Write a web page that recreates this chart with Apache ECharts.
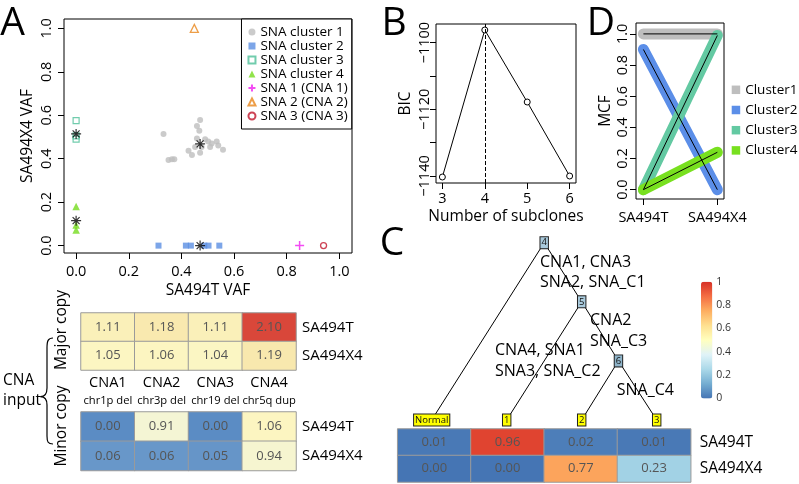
<!DOCTYPE html>
<html><head><meta charset="utf-8">
<script src="https://cdn.jsdelivr.net/npm/echarts@6/dist/echarts.min.js"></script>
<style>html,body{margin:0;padding:0;background:#fff}#c{width:799px;height:484px}</style>
</head><body><div id="c"></div>
<script>
const FONT = 'Open Sans';
// ---------- Panel A: VAF scatter ----------
const cluster1 = [[0.332,0.514],[0.351,0.394],[0.364,0.397],[0.373,0.398],[0.427,0.437],[0.440,0.417],[0.471,0.578],[0.459,0.550],[0.468,0.529],[0.459,0.493],[0.471,0.427],[0.477,0.454],[0.490,0.489],[0.502,0.479],[0.515,0.470],[0.534,0.479],[0.540,0.461],[0.558,0.441],[0.509,0.454],[0.452,0.454]];
const cluster2 = [[0.313,0],[0.417,0],[0.436,0],[0.487,0],[0.503,0],[0.544,0]];
const cluster3 = [[0,0.575],[0,0.505],[0,0.49]];
const cluster4 = [[0,0.18],[0,0.095],[0,0.072]];
const sna1 = [[0.849,0]];
const sna2 = [[0.449,1.0]];
const sna3 = [[0.940,0]];
const clusterCenters = [[0.471,0.468],[0.471,0],[0,0.514],[0,0.115]];
const vafTicks = [0,0.2,0.4,0.6,0.8,1.0];
// ---------- Panel B: BIC ----------
const subclones = [3,4,5,6];
const bic = [-1140.3,-1096.2,-1117.8,-1140.0];
const bestK = 4;
const bicTicks = [-1140,-1130,-1120,-1110,-1100];
const bicLabels = [-1140,-1120,-1100];
// ---------- Panel D: MCF ----------
const samples = ['SA494T','SA494X4'];
const mcfNames = ['Cluster1','Cluster2','Cluster3','Cluster4'];
const mcf1 = [1.0,1.0];
const mcf2 = [0.9,0.0];
const mcf3 = [0.0,0.99];
const mcf4 = [0.0,0.24];
const mcfTicks = [0,0.2,0.4,0.6,0.8,1.0];
// ---------- CNA input heatmaps ----------
const cnaNames = ['CNA1','CNA2','CNA3','CNA4'];
const cnaRegions = ['chr1p del','chr3p del','chr19 del','chr5q dup'];
const majorT = [1.11,1.18,1.11,2.10];
const majorX4 = [1.05,1.06,1.04,1.19];
const minorT = [0.00,0.91,0.00,1.06];
const minorX4 = [0.06,0.06,0.05,0.94];
// ---------- Panel C: clone tree + fractions ----------
const cloneNames = ['Normal','1','2','3'];
const cloneT = [0.01,0.96,0.02,0.01];
const cloneX4 = [0.00,0.00,0.77,0.23];
const treeNodes = [
  {name:'4', x:1.5, depth:3}, {name:'5', x:2, depth:2}, {name:'6', x:2.49, depth:1},
  {name:'Normal', x:0, depth:0}, {name:'1', x:1, depth:0}, {name:'2', x:2, depth:0}, {name:'3', x:3, depth:0}
];
const treeEdges = [['4','Normal'],['4','5'],['5','1'],['5','6'],['6','2'],['6','3']];
const colorTicks = [0,0.2,0.4,0.6,0.8,1];

const rdylbu = ['#4575b4','#74add1','#abd9e9','#e0f3f8','#ffffbf','#fee090','#fdae61','#f46d43','#d73027'];
const cnaPalette = ['#5b8cc4','#a9cde3','#e8f4ee','#fcf6c2','#f3d48f','#ee9a66','#d9473a'];

const toCells = rows => rows.flatMap((r, yi) => r.map((v, xi) => [xi, yi, v]));
const pair = arr => arr.map((v, i) => [i + 1, v]);

const black = '#000';
const tickStyle = {lineStyle:{color:black, width:1}};
function valAxis(o) {
  return Object.assign({
    type:'value', axisLine:{show:false, onZero:false}, splitLine:{show:false},
    nameLocation:'middle', nameTextStyle:{fontFamily:FONT, fontSize:15.5, color:black}
  }, o);
}
const lbl = (extra) => Object.assign({color:black, fontFamily:FONT, fontSize:14.5}, extra);

const chart = echarts.init(document.getElementById('c'), null, {renderer:'canvas'});

const scatterBase = {type:'scatter', xAxisIndex:0, yAxisIndex:0, symbolSize:6};
const series = [
  Object.assign({}, scatterBase, {name:'SNA cluster 1', data:cluster1, symbol:'circle', itemStyle:{color:'#bebebe'}}),
  Object.assign({}, scatterBase, {name:'SNA cluster 2', data:cluster2, symbol:'rect', itemStyle:{color:'#5b8fe2'}}),
  Object.assign({}, scatterBase, {name:'SNA cluster 3', data:cluster3, symbol:'rect', itemStyle:{color:'rgba(0,0,0,0)', borderColor:'#4dbf98', borderWidth:1.2}}),
  Object.assign({}, scatterBase, {name:'SNA cluster 4', data:cluster4, symbol:'triangle', symbolSize:7.5, itemStyle:{color:'#76dc1e'}}),
  Object.assign({}, scatterBase, {name:'SNA 1 (CNA 1)', data:sna1, symbol:'path://M0,-1L0,1M-1,0L1,0', symbolSize:9, itemStyle:{color:'rgba(0,0,0,0)', borderColor:'#f01ef0', borderWidth:1.5}}),
  Object.assign({}, scatterBase, {name:'SNA 2 (CNA 2)', data:sna2, symbol:'triangle', symbolSize:8, itemStyle:{color:'rgba(0,0,0,0)', borderColor:'#e8861a', borderWidth:1.3}}),
  Object.assign({}, scatterBase, {name:'SNA 3 (CNA 3)', data:sna3, symbol:'circle', symbolSize:6, itemStyle:{color:'rgba(0,0,0,0)', borderColor:'#c0142a', borderWidth:1.3}}),
  Object.assign({}, scatterBase, {name:'centers', data:clusterCenters, symbol:'path://M0,-1L0,1M-1,0L1,0M-0.7,-0.7L0.7,0.7M-0.7,0.7L0.7,-0.7', symbolSize:10, itemStyle:{color:'rgba(0,0,0,0)', borderColor:black, borderWidth:1.2}, z:5}),
  {type:'line', name:'BIC', xAxisIndex:1, yAxisIndex:1, data:subclones.map((k,i)=>[k,bic[i]]), symbol:'circle', symbolSize:6,
   itemStyle:{color:'#fff', borderColor:black, borderWidth:1}, lineStyle:{color:black, width:1},
   markLine:{silent:true, symbol:['none','none'], label:{show:false}, lineStyle:{type:'dashed', color:black, width:1}, data:[{xAxis:bestK}]}},
];
const dColors = ['#bebebe','#5b8ee8','#63c9a2','#78e01f'];
[mcf1,mcf2,mcf3,mcf4].forEach((m,i)=>series.push({type:'line', name:mcfNames[i], xAxisIndex:2, yAxisIndex:2, data:pair(m), symbol:'none',
  lineStyle:{color:dColors[i], width:11, cap:'round'}, itemStyle:{color:dColors[i]}}));
[mcf1,mcf2,mcf3,mcf4].forEach((m,i)=>series.push({type:'line', name:'thin'+i, xAxisIndex:2, yAxisIndex:2, data:pair(m), symbol:'none',
  lineStyle:{color:black, width:1}, z:4}));
const hmLabel = {show:true, color:'#555', fontFamily:FONT, fontSize:13, formatter:p=>p.value[2].toFixed(2)};
const hmItem = {borderColor:'#9a9a9a', borderWidth:1};
series.push({type:'heatmap', name:'major', xAxisIndex:3, yAxisIndex:3, data:toCells([majorT,majorX4]), label:hmLabel, itemStyle:hmItem});
series.push({type:'heatmap', name:'minor', xAxisIndex:4, yAxisIndex:4, data:toCells([minorT,minorX4]), label:hmLabel, itemStyle:hmItem});
series.push({type:'heatmap', name:'clones', xAxisIndex:5, yAxisIndex:5, data:toCells([cloneT,cloneX4]), label:hmLabel, itemStyle:hmItem});
const leafSet = new Set(cloneNames);
series.push({type:'graph', coordinateSystem:'cartesian2d', xAxisIndex:6, yAxisIndex:6, symbolSize:1,
  itemStyle:{color:'rgba(0,0,0,0)'},
  data:treeNodes.map(n=>({name:n.name, value:[n.x,n.depth], label:{backgroundColor: leafSet.has(n.name) ? '#ffff00' : (n.name==='6' ? '#8fb4c9' : '#a9cadc')}})),
  links:treeEdges.map(([s,t])=>({source:s, target:t})),
  lineStyle:{color:black, width:1, opacity:1},
  label:{show:true, position:'inside', formatter:'{b}', fontSize:9.5, fontFamily:FONT, color:'#111', borderColor:'#222', borderWidth:1, padding:[1,1,0,1]},
  z:3});

const grids = [
  {left:64, top:19, width:288, height:234},       // A scatter
  {left:436, top:24, width:140, height:159},      // B
  {left:636, top:23, width:88, height:176},       // D
  {left:81, top:313, width:215, height:57},       // major
  {left:81, top:412, width:215, height:58.5},     // minor
  {left:397.7, top:429, width:293, height:53},    // C heatmap
  {left:394.2, top:230.9, width:300, height:200.9}, // tree
  {left:701, top:281.7, width:11.3, height:116.7}  // colorbar axis
].map((g,i)=>Object.assign({show: i<3, borderColor:black, borderWidth:1, containLabel:false}, g));

const catX = (gi, data, extra) => Object.assign({gridIndex:gi, type:'category', data, axisLine:{show:false}, axisTick:{show:false}, axisLabel:{show:false}, splitLine:{show:false}}, extra||{});
const catY = (gi, size, margin) => ({gridIndex:gi, type:'category', data:samples, inverse:true, position:'right', axisLine:{show:false}, axisTick:{show:false}, axisLabel:lbl({margin, fontSize:size})});

const xAxis = [
  valAxis({gridIndex:0, min:-0.046, max:1.048, axisTick:Object.assign({length:6, customValues:vafTicks}, tickStyle),
    axisLabel:lbl({customValues:vafTicks, formatter:v=>v.toFixed(1), margin:11}), name:'SA494T VAF', nameGap:30}),
  valAxis({gridIndex:1, min:2.85, max:6.15, axisTick:Object.assign({length:6, customValues:subclones}, tickStyle),
    axisLabel:lbl({customValues:subclones, margin:8}), name:'Number of subclones', nameGap:26}),
  valAxis({gridIndex:2, min:0.9, max:2.09, axisTick:Object.assign({length:6, customValues:[1,2]}, tickStyle),
    axisLabel:lbl({customValues:[1,2], formatter:v=>samples[Math.round(v)-1], margin:11})}),
  catX(3, cnaNames),
  catX(4, cnaNames, {position:'top', axisLabel:{show:true, margin:2, interval:0, color:black, fontFamily:FONT,
    formatter:(v,i)=>'{a|'+v+'}\n{b|'+cnaRegions[i]+'}',
    rich:{a:{fontSize:14.5, lineHeight:18, fontFamily:FONT, color:black}, b:{fontSize:11.2, lineHeight:18, fontFamily:FONT, color:black}}}}),
  catX(5, cloneNames),
  {gridIndex:6, type:'value', min:-0.5, max:3.5, show:false},
  {gridIndex:7, type:'value', min:0, max:1, show:false}
];
const yAxis = [
  valAxis({gridIndex:0, min:-0.034, max:1.043, axisTick:Object.assign({length:6, customValues:vafTicks}, tickStyle),
    axisLabel:lbl({customValues:vafTicks, formatter:v=>v.toFixed(1), rotate:90, margin:10}), name:'SA494X4 VAF', nameGap:28}),
  valAxis({gridIndex:1, min:-1142.1, max:-1094.4, axisTick:Object.assign({length:6, customValues:bicTicks}, tickStyle),
    axisLabel:lbl({customValues:bicLabels, formatter:v=>'\u2212'+Math.abs(v), rotate:90, margin:4}), name:'BIC', nameGap:22}),
  valAxis({gridIndex:2, min:-0.06, max:1.07, axisTick:Object.assign({length:6, customValues:mcfTicks}, tickStyle),
    axisLabel:lbl({customValues:mcfTicks, formatter:v=>v.toFixed(1), rotate:90, margin:6}), name:'MCF', nameGap:22}),
  catY(3, 15, 6), catY(4, 15, 6),
  catY(5, 15.5, 9),
  {gridIndex:6, type:'value', min:-0.2, max:3.2, show:false},
  {gridIndex:7, type:'value', min:0, max:1, interval:0.2, position:'right', axisLine:{show:false}, axisTick:{show:false}, splitLine:{show:false},
    axisLabel:{color:'#333', fontFamily:FONT, fontSize:10.5, margin:4, customValues:colorTicks}}
];

const T = (text, x, y, size, opts) => {
  opts = opts || {};
  return {type:'text', x, y, rotation: opts.rot || 0, z:100,
    style:{text, fontSize:size, fontFamily:FONT, fill:black, align:opts.align || 'left', verticalAlign:'middle'}};
};
const braceStyle = {fill:'none', stroke:black, lineWidth:1.2};
const bz = (x1,y1,cx1,cy1,cx2,cy2,x2,y2) => ({type:'bezierCurve', z:100, shape:{x1,y1,cpx1:cx1,cpy1:cy1,cpx2:cx2,cpy2:cy2,x2,y2}, style:braceStyle});
const ln = (x1,y1,x2,y2) => ({type:'line', z:100, shape:{x1,y1,x2,y2}, style:braceStyle});
const graphic = [
  T('A', 12.5, 23.4, 39, {align:'center'}),
  T('B', 394, 23.4, 39, {align:'center'}),
  T('C', 392, 244, 39, {align:'center'}),
  T('D', 601, 23.4, 39, {align:'center'}),
  T('Major copy', 61.5, 330, 15.5, {align:'center', rot:Math.PI/2}),
  T('Minor copy', 61.5, 426, 15.5, {align:'center', rot:Math.PI/2}),
  T('CNA', 3, 380.5, 15.5),
  T('input', 3, 400.5, 15.5),
  bz(53,338, 48,338, 47,341, 47,348),
  ln(47,348, 47,388),
  bz(47,388, 47,394, 45,396.7, 40.5,396.7),
  bz(40.5,396.7, 45,396.7, 47,399, 47,405),
  ln(47,405, 47,436),
  bz(47,436, 47,442, 48,444, 53,444),
  T('CNA1, CNA3', 540, 262.3, 16),
  T('SNA2, SNA_C1', 540, 282.3, 16),
  T('CNA2', 590, 320.7, 16),
  T('SNA_C3', 590, 341.7, 16),
  T('CNA4, SNA1', 495, 350.7, 16),
  T('SNA3, SNA_C2', 495, 371.7, 16),
  T('SNA_C4', 616.7, 390, 16)
];

const option = {
  animation:false,
  backgroundColor:'#fff',
  grid:grids, xAxis, yAxis, series, graphic,
  legend:[
    {data:['SNA cluster 1','SNA cluster 2','SNA cluster 3','SNA cluster 4','SNA 1 (CNA 1)','SNA 2 (CNA 2)','SNA 3 (CNA 3)'],
     orient:'vertical', right:447.3, top:19, itemWidth:7, itemHeight:7, itemGap:0, selectedMode:false,
     borderColor:black, borderWidth:1, backgroundColor:'#fff', padding:[6,4,6,6],
     textStyle:{fontFamily:FONT, fontSize:13.5, lineHeight:13.1, color:black}},
    {data:mcfNames, orient:'vertical', left:731.7, top:82.8, itemWidth:8.5, itemHeight:8.5, itemGap:6.2, selectedMode:false, icon:'rect', padding:0,
     textStyle:{fontFamily:FONT, fontSize:13.5, lineHeight:13, color:black}}
  ],
  visualMap:[
    {type:'continuous', seriesIndex:[17,18], dimension:2, min:0, max:2.1, show:false, inRange:{color:cnaPalette}},
    {type:'continuous', seriesIndex:[19], dimension:2, min:0, max:1, show:true, calculable:false, hoverLink:false,
     left:701, top:281.7, itemWidth:11.3, itemHeight:116.7, padding:0, showLabel:false, inRange:{color:rdylbu}}
  ]
};
chart.setOption(option);
</script></body></html>
